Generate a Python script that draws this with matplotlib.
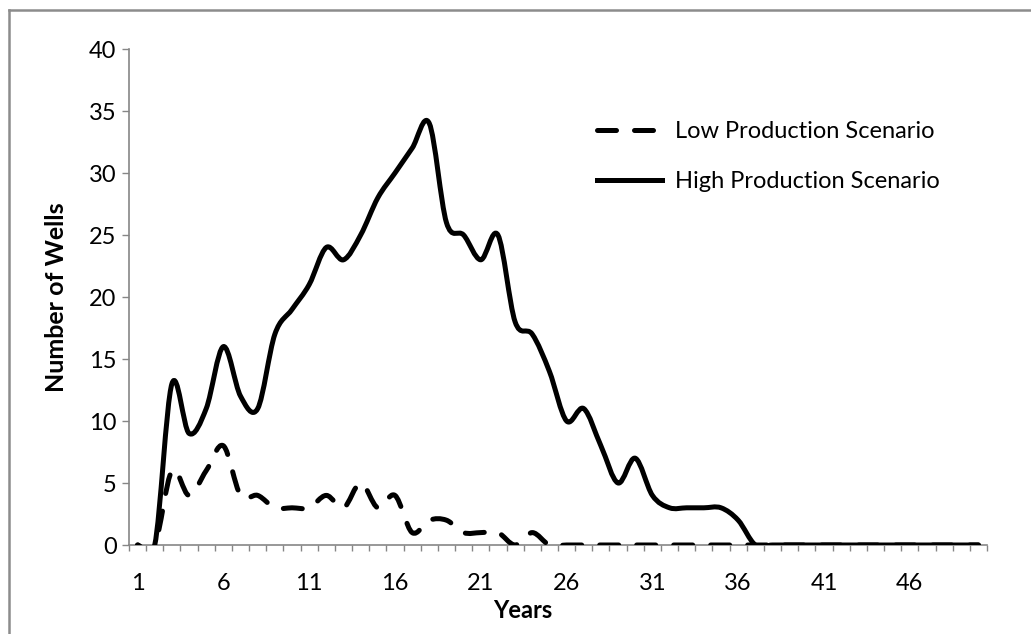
import matplotlib
matplotlib.use("Agg")
import matplotlib.pyplot as plt
from matplotlib.path import Path
from matplotlib.patches import PathPatch
from matplotlib.lines import Line2D
import numpy as np

plt.rcParams['font.family'] = ['Lato', 'DejaVu Sans']

years = list(range(1, 51))
high_production = [0, 0, 13, 9, 11, 16, 12, 11, 17, 19,
                   21, 24, 23, 25, 28, 30, 32, 34, 26, 25,
                   23, 25, 18, 17, 14, 10, 11, 8, 5, 7,
                   4, 3, 3, 3, 3, 2, 0, 0, 0, 0,
                   0, 0, 0, 0, 0, 0, 0, 0, 0, 0]
low_production = [0, 0, 6, 4, 6, 8, 4, 4, 3, 3,
                  3, 4, 3, 5, 3, 4, 1, 2, 2, 1,
                  1, 1, 0, 1, 0, 0, 0, 0, 0, 0,
                  0, 0, 0, 0, 0, 0, 0, 0, 0, 0,
                  0, 0, 0, 0, 0, 0, 0, 0, 0, 0]
x_tick_labels = ['1', '6', '11', '16', '21', '26', '31', '36', '41', '46']
y_ticks = [0, 5, 10, 15, 20, 25, 30, 35, 40]


def smooth_path(xs, ys):
    """Excel-style smoothed line: cubic Bezier segments through the data points."""
    p = np.column_stack([xs, ys]).astype(float)
    n = len(p)
    verts = [p[0]]
    codes = [Path.MOVETO]
    for i in range(n - 1):
        p0 = p[i - 1] if i > 0 else p[i]
        p1 = p[i]
        p2 = p[i + 1]
        p3 = p[i + 2] if i + 2 < n else p[i + 1]
        c1 = p1 + (p2 - p0) / 6.0
        c2 = p2 - (p3 - p1) / 6.0
        verts += [c1, c2, p2]
        codes += [Path.CURVE4] * 3
    return Path(verts, codes)


W, H = 1031, 634
FS = 17
fig = plt.figure(figsize=(W / 100, H / 100), dpi=100)
ax = fig.add_axes([129 / W, 1 - 545 / H, (987 - 129) / W, (545 - 49) / H])

lw = 3.6
dash = (0, (3.8, 3.6))
high_patch = PathPatch(smooth_path(years, high_production), fill=False,
                       edgecolor='black', linewidth=lw, capstyle='round',
                       joinstyle='round', zorder=3)
low_patch = PathPatch(smooth_path(years, low_production), fill=False,
                      edgecolor='black', linewidth=lw,
                      linestyle=dash, capstyle='round',
                      joinstyle='round', zorder=3)
ax.add_patch(low_patch)
ax.add_patch(high_patch)

ax.set_xlim(0.5, 50.5)
ax.set_ylim(0, 40)

ax.set_xticks([int(t) for t in x_tick_labels])
ax.set_xticklabels(x_tick_labels)
ax.set_xticks(np.arange(0.5, 51, 1.0), minor=True)
ax.tick_params(axis='x', which='major', length=0, pad=20, labelsize=FS, labelcolor='black')
ax.tick_params(axis='x', which='minor', length=4, width=1, color='#868686', direction='out')

ax.set_yticks(y_ticks)
ax.set_yticklabels([str(v) for v in y_ticks])
ax.tick_params(axis='y', which='major', length=5, width=1, color='#868686', pad=4,
               labelsize=FS, labelcolor='black')

for side in ['top', 'right']:
    ax.spines[side].set_visible(False)
for side in ['left', 'bottom']:
    ax.spines[side].set_color('#868686')
    ax.spines[side].set_linewidth(1.2)

fig.text(57 / W, 1 - 297 / H, 'Number of Wells', rotation=90, ha='center', va='center',
         fontsize=18, fontweight='bold')
fig.text(523 / W, 1 - 610 / H, 'Years', ha='center', va='center',
         fontsize=FS, fontweight='bold')

handles = [Line2D([], [], color='black', linewidth=lw, linestyle=dash,
                  dash_capstyle='round'),
           Line2D([], [], color='black', linewidth=lw)]
ax.legend(handles, ['Low Production Scenario', 'High Production Scenario'],
          loc='upper left', bbox_to_anchor=((588 - 129) / (987 - 129), (545 - 112) / (545 - 49)),
          frameon=False, fontsize=FS, handlelength=2.75, handletextpad=0.55,
          labelspacing=1.2, borderaxespad=0)

# chart-area border (top and left edges visible in the reference)
fig.add_artist(Line2D([9 / W, 1], [1 - 10 / H, 1 - 10 / H], transform=fig.transFigure,
                      color='#8c8c8c', linewidth=1.8))
fig.add_artist(Line2D([9 / W, 9 / W], [1 - 10 / H, 0], transform=fig.transFigure,
                      color='#8c8c8c', linewidth=1.8))

fig.savefig('out.png', dpi=100, facecolor='white')
